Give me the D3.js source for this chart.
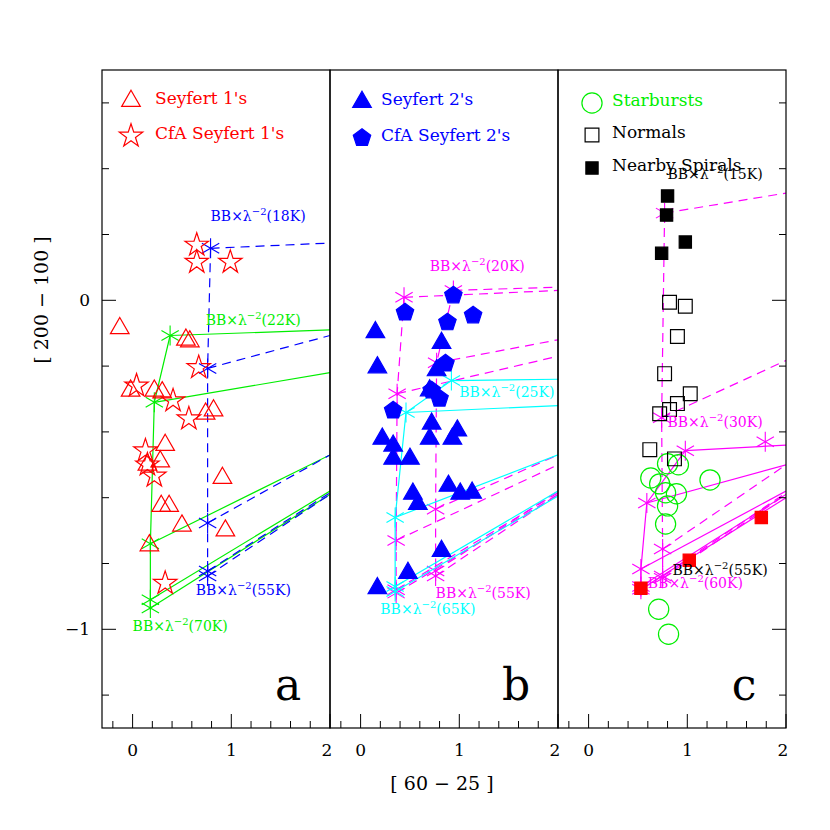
<!DOCTYPE html>
<html>
<head>
<meta charset="utf-8">
<style>
  body { margin: 0; background: #fff; }
  text { font-family: "DejaVu Serif", serif; }
</style>
</head>
<body>
<svg id="chart" width="830" height="830"></svg>
<script src="https://d3js.org/d3.v7.min.js"></script>
<script>
// ---- data (x = [60-25], y = [200-100]) ----
const sey1 = [[-0.13,-0.085],[0.54,-0.12],[0.58,-0.125],[-0.02,-0.275],[0.22,-0.275],[0.30,-0.28],
  [0.82,-0.335],[0.74,-0.345],[0.33,-0.44],[0.28,-0.49],[0.15,-0.50],[0.91,-0.54],[0.29,-0.625],
  [0.37,-0.625],[0.50,-0.685],[0.94,-0.70],[0.17,-0.745]];
const cfaSey1 = [[0.65,0.168],[0.65,0.116],[0.99,0.116],[0.67,-0.204],[0.04,-0.26],[0.41,-0.305],
  [0.57,-0.36],[0.13,-0.457],[0.22,-0.534],[0.33,-0.86],[0.15,-0.50]];
const sey2 = [[0.15,-0.097],[0.17,-0.204],[0.82,-0.13],[0.77,-0.213],[0.70,-0.274],[0.72,-0.375],
  [0.70,-0.421],[0.98,-0.396],[0.93,-0.421],[0.22,-0.421],[0.33,-0.442],[0.33,-0.482],[0.50,-0.482],
  [0.53,-0.588],[0.58,-0.619],[0.89,-0.564],[1.01,-0.588],[1.13,-0.585],[0.82,-0.762],[0.48,-0.829],[0.17,-0.875]];
const cfaSey2 = [[0.45,-0.037],[0.94,0.015],[0.88,-0.067],[1.14,-0.046],[0.86,-0.192],[0.80,-0.299],
  [0.33,-0.335],[0.72,-0.274]];
const nearby = [[0.80,0.317],[0.79,0.259],[0.98,0.177],[0.74,0.143]];
const normals = [[0.82,-0.006],[0.98,-0.018],[0.90,-0.110],[0.77,-0.223],[1.03,-0.284],[0.90,-0.314],
  [0.82,-0.332],[0.72,-0.345],[0.62,-0.454],[0.87,-0.482]];
const starbursts = [[0.80,-0.497],[0.91,-0.50],[0.63,-0.54],[0.72,-0.558],[1.23,-0.546],[0.78,-0.585],
  [0.89,-0.588],[0.80,-0.625],[0.78,-0.68],[0.71,-0.939],[0.81,-1.015]];
const redSq = [[0.53,-0.875],[1.02,-0.79],[1.75,-0.66]];

// model tracks: spine points and y where each spoke meets x = 2
const tracks = [
  {panel:0, color:"#00ee00", dash:null,
   spine:[[0.38,-0.107],[0.22,-0.31],[0.18,-0.74],[0.18,-0.91],[0.18,-0.935]],
   ends:[-0.09,-0.22,-0.47,-0.58,-0.59]},
  {panel:0, color:"#0000ff", dash:"9,6",
   spine:[[0.79,0.158],[0.76,-0.207],[0.76,-0.677],[0.76,-0.823],[0.76,-0.838]],
   ends:[0.174,-0.107,-0.47,-0.585,-0.59]},
  {panel:1, color:"#ff00ff", dash:"9,6",
   spine:[[0.44,0.009],[0.37,-0.284],[0.36,-0.73],[0.36,-0.88],[0.36,-0.89]],
   ends:[0.03,-0.17,-0.50,-0.585,-0.59]},
  {panel:1, color:"#ff00ff", dash:"9,6",
   spine:[[0.94,0.03],[0.77,-0.19],[0.76,-0.635],[0.76,-0.823],[0.76,-0.838]],
   ends:[0.04,-0.12,-0.47,-0.58,-0.59]},
  {panel:1, color:"#00ffff", dash:null,
   spine:[[0.92,-0.244],[0.46,-0.341],[0.35,-0.66],[0.35,-0.87],[0.35,-0.885]],
   ends:[-0.24,-0.32,-0.47,-0.58,-0.595]},
  {panel:2, color:"#ff00ff", dash:"9,6",
   spine:[[0.77,0.265],[0.74,-0.357],[0.75,-0.756],[0.75,-0.838],[0.75,-0.845]],
   ends:[0.326,-0.183,-0.50,-0.585,-0.59]},
  {panel:2, color:"#ff00ff", dash:null,
   spine:[[0.98,-0.457],[0.59,-0.616],[0.53,-0.817],[0.53,-0.87],[0.53,-0.878]],
   ends:[-0.44,-0.50,-0.58,-0.59,-0.60]}
];

const labels = [
  {panel:0, x:0.79, y:0.24, t:"18K", c:"#0000ff"},
  {panel:0, x:0.74, y:-0.075, t:"22K", c:"#00ee00"},
  {panel:0, x:0.64, y:-0.895, t:"55K", c:"#0000ff"},
  {panel:0, x:0.0, y:-1.005, t:"70K", c:"#00ee00"},
  {panel:1, x:0.70, y:0.09, t:"20K", c:"#ff00ff"},
  {panel:1, x:1.0, y:-0.295, t:"25K", c:"#00ffff"},
  {panel:1, x:0.76, y:-0.905, t:"55K", c:"#ff00ff"},
  {panel:1, x:0.20, y:-0.955, t:"65K", c:"#00ffff"},
  {panel:2, x:0.80, y:0.37, t:"15K", c:"#000000"},
  {panel:2, x:0.80, y:-0.385, t:"30K", c:"#ff00ff"},
  {panel:2, x:0.85, y:-0.835, t:"55K", c:"#000000"},
  {panel:2, x:0.60, y:-0.875, t:"60K", c:"#ff00ff"}
];

const xTickLabels = ["0","1","2"];
const yTickLabels = ["0","\u22121"];

// ---- layout ----
const svg = d3.select("#chart");
const plotLeft = 102, panelW = 228, plotTop = 70, plotBottom = 728;
const y = d3.scaleLinear().domain([-1.3, 0.7]).range([plotBottom, plotTop]);
const xs = [0,1,2].map(i => d3.scaleLinear().domain([-0.31, 2]).range([plotLeft + i*panelW, plotLeft + (i+1)*panelW]));

const defs = svg.append("defs");
xs.forEach((x, i) => {
  defs.append("clipPath").attr("id", "clip" + i).append("rect")
    .attr("x", x.range()[0]).attr("y", plotTop).attr("width", panelW).attr("height", plotBottom - plotTop);
});

const pentagon = {draw(ctx, size) {
  const r = Math.sqrt(size / 2.38);
  for (let k = 0; k < 5; k++) {
    const a = -Math.PI/2 + k * 2*Math.PI/5;
    k ? ctx.lineTo(r*Math.cos(a), r*Math.sin(a)) : ctx.moveTo(r*Math.cos(a), r*Math.sin(a));
  }
  ctx.closePath();
}};
const asterisk = (g, cx, cy, color) => {
  for (let k = 0; k < 3; k++) {
    const a = Math.PI/2 + k*Math.PI/3, r = 10;
    g.append("line").attr("x1", cx - r*Math.cos(a)).attr("y1", cy - r*Math.sin(a))
      .attr("x2", cx + r*Math.cos(a)).attr("y2", cy + r*Math.sin(a))
      .attr("stroke", color).attr("stroke-width", 1.1);
  }
};

// tracks
tracks.forEach(tr => {
  const x = xs[tr.panel];
  const g = svg.append("g").attr("clip-path", `url(#clip${tr.panel})`);
  g.append("path")
    .attr("d", d3.line().x(d => x(d[0])).y(d => y(d[1]))(tr.spine))
    .attr("fill", "none").attr("stroke", tr.color).attr("stroke-width", 1.2)
    .attr("stroke-dasharray", tr.dash);
  tr.spine.forEach((p, i) => {
    g.append("line").attr("x1", x(p[0])).attr("y1", y(p[1]))
      .attr("x2", x(2)).attr("y2", y(tr.ends[i]))
      .attr("stroke", tr.color).attr("stroke-width", 1.2).attr("stroke-dasharray", tr.dash);
    asterisk(g, x(p[0]), y(p[1]), tr.color);
  });
});
// extra asterisk on the 30K spoke
asterisk(svg, xs[2](1.79), y(-0.43), "#ff00ff");

// points
const plot = (data, panel, type, size, fill, stroke) => {
  const x = xs[panel];
  svg.append("g").attr("clip-path", `url(#clip${panel})`).selectAll("path").data(data).join("path")
    .attr("transform", d => `translate(${x(d[0])},${y(d[1])})`)
    .attr("d", d3.symbol().type(type).size(size))
    .attr("fill", fill).attr("stroke", stroke).attr("stroke-width", 1.2);
};
plot(sey1, 0, d3.symbolTriangle, 150, "none", "#ff0000");
plot(cfaSey1, 0, d3.symbolStar, 170, "none", "#ff0000");
plot(sey2, 1, d3.symbolTriangle, 150, "#0000ff", "#0000ff");
plot(cfaSey2, 1, pentagon, 200, "#0000ff", "#0000ff");
plot(starbursts, 2, d3.symbolCircle, 320, "none", "#00ee00");
plot(normals, 2, d3.symbolSquare, 190, "none", "#000000");
plot(nearby, 2, d3.symbolSquare, 150, "#000000", "#000000");
plot(redSq, 2, d3.symbolSquare, 150, "#ff0000", "#ff0000");

// model labels
labels.forEach(l => {
  const t = svg.append("g").attr("clip-path", `url(#clip${l.panel})`).append("text")
    .attr("x", xs[l.panel](l.x)).attr("y", y(l.y))
    .attr("fill", l.c).attr("font-size", 14);
  t.append("tspan").text("BB\u00d7\u03bb");
  t.append("tspan").attr("dy", -6).attr("font-size", 10).text("\u22122");
  t.append("tspan").attr("dy", 6).text("(" + l.t + ")");
});

// frames and ticks
xs.forEach((x, i) => {
  const g = svg.append("g");
  g.append("rect").attr("x", x.range()[0]).attr("y", plotTop).attr("width", panelW).attr("height", plotBottom - plotTop)
    .attr("fill", "none").attr("stroke", "#000").attr("stroke-width", 1.2);
  const xt = d3.range(-0.2, 2.001, 0.2);
  xt.forEach(v => {
    const major = Math.abs(v - Math.round(v)) < 1e-6;
    g.append("line").attr("x1", x(v)).attr("x2", x(v))
      .attr("y1", plotBottom).attr("y2", plotBottom - (major ? 14 : 7)).attr("stroke", "#000");
  });
  xTickLabels.forEach((t, k) => {
    g.append("text").attr("x", x(k) + (k === 2 ? -3 : 0)).attr("y", 756).attr("text-anchor", "middle")
      .attr("font-size", 17).text(t);
  });
  g.append("text").attr("x", x.range()[1] - 42).attr("y", 700).attr("text-anchor", "middle")
    .attr("font-size", 44).text("abc"[i]);
});
const yt = d3.range(-1.2, 0.601, 0.2);
yt.forEach(v => {
  const major = Math.abs(v - Math.round(v)) < 1e-6;
  const len = major ? 14 : 7;
  svg.append("line").attr("x1", plotLeft).attr("x2", plotLeft + len).attr("y1", y(v)).attr("y2", y(v)).attr("stroke", "#000");
  svg.append("line").attr("x1", plotLeft + 3*panelW).attr("x2", plotLeft + 3*panelW - len).attr("y1", y(v)).attr("y2", y(v)).attr("stroke", "#000");
});
yTickLabels.forEach((t, k) => {
  svg.append("text").attr("x", 90).attr("y", y(-k) + 6).attr("text-anchor", "end").attr("font-size", 17).text(t);
});

// axis titles
svg.append("text").attr("x", 442).attr("y", 790).attr("text-anchor", "middle").attr("font-size", 19)
  .text("[ 60 \u2212 25 ]");
svg.append("text").attr("transform", "translate(48,300) rotate(-90)").attr("text-anchor", "middle")
  .attr("font-size", 19).text("[ 200 \u2212 100 ]");

// legends
const legend = [
  {x:131, y:101, type:d3.symbolTriangle, size:150, fill:"none", stroke:"#ff0000", t:"Seyfert 1's", tx:155},
  {x:131, y:136, type:d3.symbolStar, size:170, fill:"none", stroke:"#ff0000", t:"CfA Seyfert 1's", tx:155},
  {x:362, y:102, type:d3.symbolTriangle, size:150, fill:"#0000ff", stroke:"#0000ff", t:"Seyfert 2's", tx:381},
  {x:362, y:138, type:pentagon, size:200, fill:"#0000ff", stroke:"#0000ff", t:"CfA Seyfert 2's", tx:381},
  {x:592, y:103, type:d3.symbolCircle, size:320, fill:"none", stroke:"#00ee00", t:"Starbursts", tx:612},
  {x:592, y:135, type:d3.symbolSquare, size:190, fill:"none", stroke:"#000", t:"Normals", tx:612},
  {x:592, y:168, type:d3.symbolSquare, size:150, fill:"#000", stroke:"#000", t:"Nearby Spirals", tx:612}
];
legend.forEach(l => {
  svg.append("path").attr("transform", `translate(${l.x},${l.y})`)
    .attr("d", d3.symbol().type(l.type).size(l.size)).attr("fill", l.fill).attr("stroke", l.stroke).attr("stroke-width", 1.2);
  svg.append("text").attr("x", l.tx).attr("y", l.y + 3).attr("font-size", 17)
    .attr("fill", l.stroke).text(l.t);
});
</script>
</body>
</html>
